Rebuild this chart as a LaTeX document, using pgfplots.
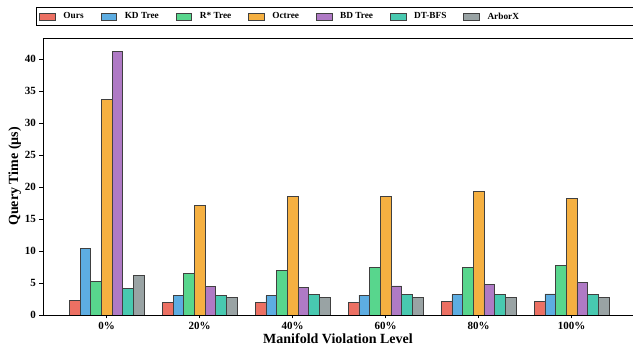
\documentclass[border=0pt]{standalone}
\usepackage{fontspec}
\setmainfont{Liberation Serif}
\usepackage{pgfplots}
\pgfplotsset{compat=1.18}
\definecolor{cOurs}{HTML}{EC7063}
\definecolor{cKD}{HTML}{5DADE2}
\definecolor{cRS}{HTML}{58D68D}
\definecolor{cOct}{HTML}{F5B041}
\definecolor{cBD}{HTML}{AF7AC5}
\definecolor{cDT}{HTML}{48C9B0}
\definecolor{cArb}{HTML}{99A3A4}
\begin{document}
\begin{tikzpicture}
\begin{axis}[
  scale only axis, width=590pt, height=277pt,
  ybar=0pt, bar width=10.67pt,
  xmin=-0.685, xmax=5.66, ymin=0, ymax=43.35,
  axis x line*=box, axis y line*=left,
  xtick={0,1,2,3,4,5},
  xticklabels={0\%,20\%,40\%,60\%,80\%,100\%},
  ytick={0,5,10,15,20,25,30,35,40},
  tick align=outside, tick pos=left,
  major tick length=3.5pt,
  tick style={black, line width=0.8pt},
  axis line style={black, line width=0.9pt},
  /pgf/number format/assume math mode=true,
  tick label style={font=\bfseries\fontsize{11}{13}\selectfont},
  xlabel={Manifold Violation Level},
  ylabel={Query Time (µs)},
  label style={font=\bfseries\fontsize{14}{16}\selectfont},
  xlabel style={yshift=3pt},
  ylabel style={yshift=-3pt},
  legend columns=7,
  legend style={at={(0,1)}, anchor=south west, xshift=-7pt, yshift=12pt,
    draw=black, line width=0.8pt, font=\bfseries\fontsize{9.3}{11}\selectfont,
    inner xsep=3pt, inner ysep=3pt,
    /tikz/every odd column/.append style={column sep=6pt},
    /tikz/every even column/.append style={column sep=15pt}},
  legend image code/.code={\draw[#1, line width=0.6pt] (0pt,-3.5pt) rectangle (15.5pt,3.5pt);},
  every axis plot/.append style={draw=black!75, line width=0.8pt},
]
\addplot[fill=cOurs] coordinates {(0,2.25) (1,1.95) (2,2.0) (3,2.0) (4,2.05) (5,2.15)};
\addplot[fill=cKD] coordinates {(0,10.35) (1,3.0) (2,3.0) (3,3.1) (4,3.15) (5,3.3)};
\addplot[fill=cRS] coordinates {(0,5.2) (1,6.5) (2,6.95) (3,7.37) (4,7.48) (5,7.8)};
\addplot[fill=cOct] coordinates {(0,33.8) (1,17.2) (2,18.56) (3,18.56) (4,19.4) (5,18.25)};
\addplot[fill=cBD] coordinates {(0,41.3) (1,4.45) (2,4.3) (3,4.55) (4,4.8) (5,5.1)};
\addplot[fill=cDT] coordinates {(0,4.1) (1,3.1) (2,3.15) (3,3.25) (4,3.25) (5,3.25)};
\addplot[fill=cArb] coordinates {(0,6.2) (1,2.8) (2,2.7) (3,2.75) (4,2.7) (5,2.8)};
\legend{Ours, KD Tree, R* Tree, Octree, BD Tree, DT-BFS, ArborX\hspace*{110pt}}
\end{axis}
\pgfresetboundingbox
\path[use as bounding box] (-43pt,-37pt) rectangle (590pt,315pt);
\end{tikzpicture}
\end{document}
